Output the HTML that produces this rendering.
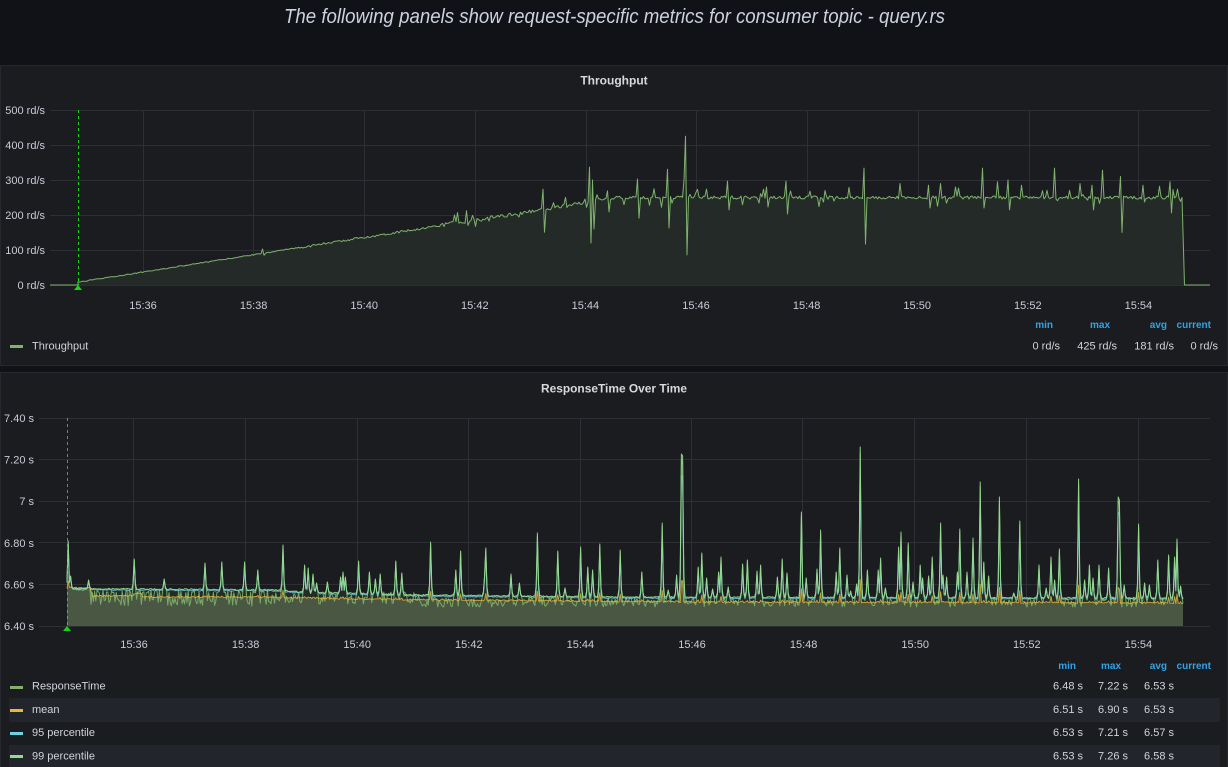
<!DOCTYPE html>
<html><head><meta charset="utf-8">
<style>
html,body{margin:0;padding:0;background:#111217;width:1228px;height:767px;overflow:hidden}
svg{display:block}
text{font-family:"Liberation Sans",Arial,sans-serif}
</style></head><body>
<svg id="s" width="1228" height="767" viewBox="0 0 1228 767" xmlns="http://www.w3.org/2000/svg">
<rect width="1228" height="767" fill="#111217"/>
<text x="614.5" y="23" text-anchor="middle" font-size="20" font-style="italic" fill="#ccd1de" textLength="661" lengthAdjust="spacingAndGlyphs">The following panels show request-specific metrics for consumer topic - query.rs</text>

<!-- Panel 1 -->
<rect x="0.5" y="65.5" width="1227" height="300" fill="#1b1c20" stroke="#27282d"/>
<text x="614" y="84.5" text-anchor="middle" font-size="12" font-weight="bold" fill="#d8d9da">Throughput</text>
<g stroke="#2e2f34" stroke-width="1">
<line x1="50" y1="110.5" x2="1210" y2="110.5"/>
<line x1="50" y1="145.5" x2="1210" y2="145.5"/>
<line x1="50" y1="180.5" x2="1210" y2="180.5"/>
<line x1="50" y1="215.5" x2="1210" y2="215.5"/>
<line x1="50" y1="250.5" x2="1210" y2="250.5"/>
<line x1="50" y1="285.5" x2="1210" y2="285.5"/>
<line x1="143.5" y1="110" x2="143.5" y2="286"/>
<line x1="253.5" y1="110" x2="253.5" y2="286"/>
<line x1="364.5" y1="110" x2="364.5" y2="286"/>
<line x1="475.5" y1="110" x2="475.5" y2="286"/>
<line x1="586.5" y1="110" x2="586.5" y2="286"/>
<line x1="696.5" y1="110" x2="696.5" y2="286"/>
<line x1="807.5" y1="110" x2="807.5" y2="286"/>
<line x1="918.5" y1="110" x2="918.5" y2="286"/>
<line x1="1029.5" y1="110" x2="1029.5" y2="286"/>
<line x1="1138.5" y1="110" x2="1138.5" y2="286"/>
</g>
<g font-size="11" fill="#c8ccd6" text-anchor="end">
<text x="45" y="114">500 rd/s</text>
<text x="45" y="149">400 rd/s</text>
<text x="45" y="184">300 rd/s</text>
<text x="45" y="219">200 rd/s</text>
<text x="45" y="254">100 rd/s</text>
<text x="45" y="289">0 rd/s</text>
</g>
<g font-size="11" fill="#c8ccd6" text-anchor="middle">
<text x="143" y="309">15:36</text>
<text x="253.6" y="309">15:38</text>
<text x="364.2" y="309">15:40</text>
<text x="474.8" y="309">15:42</text>
<text x="585.4" y="309">15:44</text>
<text x="696" y="309">15:46</text>
<text x="806.6" y="309">15:48</text>
<text x="917.2" y="309">15:50</text>
<text x="1027.8" y="309">15:52</text>
<text x="1138.4" y="309">15:54</text>
</g>
<path id="tpf" fill="#242a27" d=""/>
<path id="tpl" fill="none" stroke="#7EB26D" stroke-width="1" stroke-linejoin="round" d=""/>
<line x1="78.5" y1="110" x2="78.5" y2="285" stroke="#19d219" stroke-width="1" stroke-dasharray="3,3"/>
<polygon points="78,285 74,290 82,290" fill="#19d219"/>
<g font-size="10" font-weight="bold" fill="#33a2e5" text-anchor="end">
<text x="1053" y="328">min</text>
<text x="1110" y="328">max</text>
<text x="1167" y="328">avg</text>
<text x="1211" y="328">current</text>
</g>
<rect x="10" y="345" width="13" height="3" fill="#7EB26D"/>
<text x="32" y="349.5" font-size="11" fill="#d0d3db">Throughput</text>
<g font-size="11" fill="#d0d3db" text-anchor="end">
<text x="1060" y="349.5">0 rd/s</text>
<text x="1117" y="349.5">425 rd/s</text>
<text x="1174" y="349.5">181 rd/s</text>
<text x="1218" y="349.5">0 rd/s</text>
</g>

<!-- Panel 2 -->
<rect x="0.5" y="372.5" width="1227" height="396" fill="#1b1c20" stroke="#27282d"/>
<text x="614" y="392.5" text-anchor="middle" font-size="12" font-weight="bold" fill="#d8d9da" textLength="146" lengthAdjust="spacingAndGlyphs">ResponseTime Over Time</text>
<g stroke="#2e2f34" stroke-width="1">
<line x1="39" y1="418.5" x2="1210" y2="418.5"/>
<line x1="39" y1="459.5" x2="1210" y2="459.5"/>
<line x1="39" y1="501.5" x2="1210" y2="501.5"/>
<line x1="39" y1="542.5" x2="1210" y2="542.5"/>
<line x1="39" y1="584.5" x2="1210" y2="584.5"/>
<line x1="39" y1="626.5" x2="1210" y2="626.5"/>
<line x1="133.5" y1="418" x2="133.5" y2="627"/>
<line x1="245.5" y1="418" x2="245.5" y2="627"/>
<line x1="357.5" y1="418" x2="357.5" y2="627"/>
<line x1="468.5" y1="418" x2="468.5" y2="627"/>
<line x1="580.5" y1="418" x2="580.5" y2="627"/>
<line x1="691.5" y1="418" x2="691.5" y2="627"/>
<line x1="802.5" y1="418" x2="802.5" y2="627"/>
<line x1="914.5" y1="418" x2="914.5" y2="627"/>
<line x1="1026.5" y1="418" x2="1026.5" y2="627"/>
<line x1="1138.5" y1="418" x2="1138.5" y2="627"/>
</g>
<g font-size="11" fill="#c8ccd6" text-anchor="end">
<text x="34" y="422">7.40 s</text>
<text x="34" y="463.6">7.20 s</text>
<text x="34" y="505.2">7 s</text>
<text x="34" y="546.8">6.80 s</text>
<text x="34" y="588.4">6.60 s</text>
<text x="34" y="630">6.40 s</text>
</g>
<g font-size="11" fill="#c8ccd6" text-anchor="middle">
<text x="134" y="648">15:36</text>
<text x="245.6" y="648">15:38</text>
<text x="357.2" y="648">15:40</text>
<text x="468.8" y="648">15:42</text>
<text x="580.4" y="648">15:44</text>
<text x="692" y="648">15:46</text>
<text x="803.6" y="648">15:48</text>
<text x="915.2" y="648">15:50</text>
<text x="1026.8" y="648">15:52</text>
<text x="1138.4" y="648">15:54</text>
</g>
<path id="f99" fill="rgba(126,178,109,0.10)" d=""/>
<path id="fm" fill="#4a5843" d=""/>
<path id="lr" fill="none" stroke="#7EB26D" stroke-width="1" stroke-linejoin="round" opacity="0.9" d=""/>
<path id="l95" fill="none" stroke="#6ED0E0" stroke-width="1" stroke-linejoin="round" opacity="0.8" d=""/>
<path id="lm" fill="none" stroke="#EAB839" stroke-width="1" stroke-linejoin="round" opacity="0.8" d=""/>
<path id="l99" fill="none" stroke="#96D98D" stroke-width="1" stroke-linejoin="round" opacity="0.95" d=""/>
<line x1="67.5" y1="418" x2="67.5" y2="626" stroke="#3fd63f" stroke-width="1" stroke-dasharray="3,3" opacity="0.8"/>
<polygon points="67,626 63,631 71,631" fill="#19d219"/>

<rect x="9" y="698" width="1211" height="24" fill="#22252b"/>
<rect x="9" y="745" width="1211" height="23" fill="#22252b"/>
<g font-size="10" font-weight="bold" fill="#33a2e5" text-anchor="end">
<text x="1076" y="669">min</text>
<text x="1121" y="669">max</text>
<text x="1167" y="669">avg</text>
<text x="1211" y="669">current</text>
</g>
<rect x="10" y="686" width="13" height="3" fill="#7EB26D"/>
<rect x="10" y="709" width="13" height="3" fill="#EAB839"/>
<rect x="10" y="732" width="13" height="3" fill="#6ED0E0"/>
<rect x="10" y="755" width="13" height="3" fill="#96D98D"/>
<g font-size="11" fill="#d0d3db">
<text x="32" y="689.5">ResponseTime</text>
<text x="32" y="713">mean</text>
<text x="32" y="736">95 percentile</text>
<text x="32" y="759.5">99 percentile</text>
</g>
<g font-size="11" fill="#d0d3db" text-anchor="end">
<text x="1083" y="689.5">6.48 s</text><text x="1128" y="689.5">7.22 s</text><text x="1174" y="689.5">6.53 s</text>
<text x="1083" y="713">6.51 s</text><text x="1128" y="713">6.90 s</text><text x="1174" y="713">6.53 s</text>
<text x="1083" y="736">6.53 s</text><text x="1128" y="736">7.21 s</text><text x="1174" y="736">6.57 s</text>
<text x="1083" y="759.5">6.53 s</text><text x="1128" y="759.5">7.26 s</text><text x="1174" y="759.5">6.58 s</text>
</g>
</svg>
<script>
(function(){
function mk(seed){return function(){seed|=0;seed=seed+0x6D2B79F5|0;var t=Math.imul(seed^seed>>>15,1|seed);t=t+Math.imul(t^t>>>7,61|t)^t;return((t^t>>>14)>>>0)/4294967296;};}
var R=mk(12345);
function f(n){return (Math.round(n*10)/10).toString();}
function $(id){return document.getElementById(id);}
/* Throughput */
var tx=[],tv=[];
for(var x=78;x<=1183;x+=1.5){
  var b=Math.min(250,8+0.447*(x-78));
  var a=x<300?1.3:(x<440?3:(x<600?6:4.5));
  var v=b+(R()-0.5)*2*a;
  if(x>420){var p=x<600?0.06:0.08; if(R()<p) v+=(R()<0.5?-1:1)*(8+R()*18);}
  tx.push(x);tv.push(v);
}
var ts=[[263,103],[264.5,85],[455,200],[466,212],[467.5,170],[543,274],[545,151],[589,337],[590.5,120],[592,300],[594,160],[608,269],[609.5,209],[637,303],[638.5,191],[667,331],[668.5,163],[684,300],[685.5,425],[687,86],[707,274],[727,297],[728.5,215],[766,280],[767.5,223],[786,297],[787.5,203],[810,268],[825,270],[864,334],[865.5,117],[900,290],[928,285],[929.5,220],[940,290],[955,280],[983,334],[984.5,220],[998,295],[1008,300],[1009.5,215],[1022,285],[1055,334],[1080,290],[1092,285],[1093.5,215],[1102,328],[1120,310],[1121.5,150],[1143,285],[1160,282],[1170,295],[1171.5,206]];
ts.forEach(function(s){var i=Math.round((s[0]-78)/1.5); if(i>=0&&i<tv.length) tv[i]=s[1];});
var pts=[];
for(var i=0;i<tx.length;i++){pts.push(f(tx[i])+","+f(285-tv[i]*0.35));}
var last=tx[tx.length-1];
$("tpl").setAttribute("d","M50,285 L78,285 L"+pts.join(" L")+" L"+f(last+2.5)+",285 L1210,285");
$("tpf").setAttribute("d","M78,285 L"+pts.join(" L")+" L"+f(last+2.5)+",285 Z");
/* Response time */
function lerp(P,x){for(var i=0;i<P.length-1;i++){if(x<=P[i+1][0]){var t=(x-P[i][0])/(P[i+1][0]-P[i][0]);return P[i][1]+t*(P[i+1][1]-P[i][1]);}}return P[P.length-1][1];}
var topP=[[67,588.5],[280,590],[300,592],[420,595],[620,597],[1183,598]];
var meanP=[[67,588],[90,588],[92,596],[134,595.5],[136,593],[141,593],[143,597],[250,597],[400,599.5],[700,602],[1183,603]];
var xs=[],y99=[],y95=[],ym=[],yr=[],b99=[];
for(var x=67;x<=1183.01;x+=1.2){
  var t=lerp(topP,x);
  xs.push(x);
  b99.push(t);
  y99.push(t+(R()-0.5)*1.2);
  y95.push(t+1+(R()-0.5)*1.2);
  ym.push(lerp(meanP,x)+(R()-0.5)*1.5);
  var r;
  if(x<90) r=589+(R()-0.5);
  else if(x<270) r=R()<0.5?590+R()*3:598+R()*8;
  else if(x<420) r=592+R()*12;
  else r=597+R()*10;
  yr.push(r);
}
var rs=[[68,541],[71,576],[89,580],[134,559],[164,579],[205,563],[222,562],[245,562],[258,570],[283,545],[305,565],[308,568],[313,574],[316,583],[327,582],[340,577],[343,572],[345,577],[358,561],[369,572],[375,579],[380,574],[396,561],[402,573],[431,542],[456,570],[460,551],[485,575],[486,548],[511,574],[519,583],[537,533],[558,551],[565,588],[581,547],[588,567],[593,570],[600,544],[620,550],[642,572],[662,523],[668,590],[677,575],[681,454],[682,456],[698,567],[702,553],[707,578],[713,589],[718,572],[721,557],[728,587],[742,564],[747,560],[757,571],[761,565],[777,577],[782,559],[787,573],[801,512],[806,578],[817,569],[821,530],[836,572],[840,548],[847,575],[851,591],[856,584],[860,447],[867,570],[878,570],[880,558],[885,588],[898,547],[901,532],[908,543],[913,582],[920,565],[922,578],[928,576],[932,557],[940,523],[943,575],[947,577],[957,572],[960,529],[967,572],[973,538],[980,482],[984,562],[989,576],[999,497],[1014,593],[1020,521],[1039,565],[1046,588],[1051,557],[1055,580],[1059,549],[1078,479],[1085,580],[1089,565],[1093,578],[1099,565],[1108,568],[1118,497],[1119,500],[1124,585],[1138,524],[1144,583],[1149,585],[1158,560],[1169,555],[1174,557],[1177,539],[1181,586]];
rs.forEach(function(s){
  var i=Math.round((s[0]-67)/1.2); if(i<0||i>=xs.length)return;
  var base=b99[i], pk=s[1], h=base-pk;
  y99[i]=Math.min(y99[i],pk);
  yr[i]=Math.min(yr[i],pk+h*0.04);
  y95[i]=Math.min(y95[i],pk+h*0.15);
  if(h>40) ym[i]=Math.min(ym[i],ym[i]-h*0.15); else ym[i]=ym[i]-h*0.05;
  [i-1,i+1].forEach(function(j){if(j<0||j>=xs.length)return;
    y99[j]=Math.min(y99[j],base-h*0.18);
    yr[j]=Math.min(yr[j],base-h*0.12);
    y95[j]=Math.min(y95[j],base-h*0.12);
  });
});
function line(arr){var p=[];for(var i=0;i<xs.length;i++)p.push(f(xs[i])+","+f(arr[i]));return p;}
var p99=line(y99),p95=line(y95),pm=line(ym),pr=line(yr);
var x0=f(xs[0]),x1=f(xs[xs.length-1]);
$("l99").setAttribute("d","M"+p99.join(" L"));
$("l95").setAttribute("d","M"+p95.join(" L"));
$("lm").setAttribute("d","M"+pm.join(" L"));
$("lr").setAttribute("d","M"+pr.join(" L"));
$("f99").setAttribute("d","M"+x0+",626 L"+p99.join(" L")+" L"+x1+",626 Z");
$("fm").setAttribute("d","M"+x0+",626 L"+pm.join(" L")+" L"+x1+",626 Z");
})();
</script>
</body></html>
